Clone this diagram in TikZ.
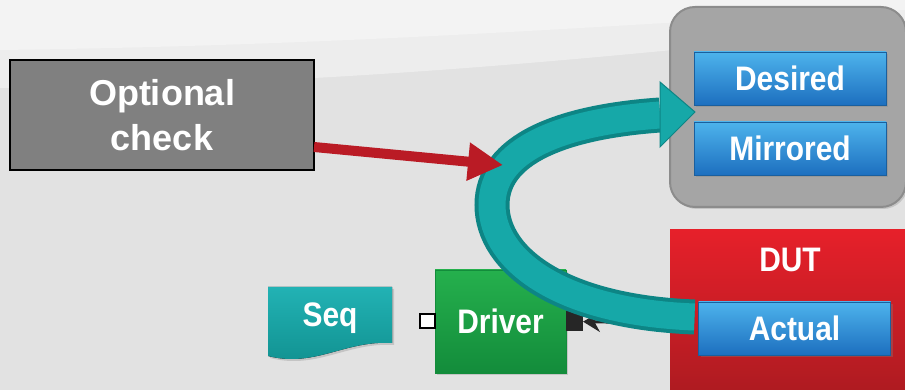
\documentclass[tikz,border=0pt]{standalone}
\usepackage{fontspec}
\setmainfont{Liberation Sans}
\newfontfamily\narrowsans{Liberation Sans}[FakeStretch=0.88]
\usepackage{xcolor}
\usetikzlibrary{arrows.meta, positioning, shadows}

\definecolor{bgGray}{HTML}{E2E2E2}
\definecolor{bgLight}{HTML}{EDEDED}
\definecolor{bgTop}{HTML}{F3F3F3}
\definecolor{optGray}{HTML}{808080}
\definecolor{regGray}{HTML}{A5A5A5}
\definecolor{regEdge}{HTML}{8C8C8C}
\definecolor{blueTop}{HTML}{4DB3EC}
\definecolor{blueMid}{HTML}{2D90DA}
\definecolor{blueBot}{HTML}{1D6FBF}
\definecolor{blueEdge}{HTML}{1A5F9E}
\definecolor{dutTop}{HTML}{E6202A}
\definecolor{dutBot}{HTML}{AE1B21}
\definecolor{greenTop}{HTML}{25B04D}
\definecolor{greenBot}{HTML}{138C3B}
\definecolor{seqTop}{HTML}{22B2B4}
\definecolor{seqBot}{HTML}{10908F}
\definecolor{tealDark}{HTML}{0D8585}
\definecolor{tealMid}{HTML}{16A8A8}
\definecolor{checkRed}{HTML}{BA1B25}

\begin{document}
\begin{tikzpicture}[
    x=1pt, y=1pt,
    box/.style={inner sep=0pt, outer sep=0pt, align=center, text=white, font=\narrowsans\bfseries\fontsize{34}{38}\selectfont},
    optbox/.style={box, minimum width=304pt, minimum height=110pt, fill=optGray, draw=black, line width=1.5pt, font=\rmfamily\bfseries\fontsize{36}{45}\selectfont},
    regbox/.style={box, minimum width=236pt, minimum height=200pt, rounded corners=25pt, fill=regGray, draw=regEdge, line width=2pt, drop shadow={shadow xshift=2pt, shadow yshift=-2pt, opacity=0.3}},
    bluebox/.style={box, minimum width=192pt, minimum height=53pt, top color=blueTop, middle color=blueMid, bottom color=blueBot, draw=blueEdge, line width=0.8pt, drop shadow={shadow xshift=2pt, shadow yshift=-2pt, opacity=0.35}},
    dutbox/.style={box, minimum width=236pt, minimum height=162pt, top color=dutTop, bottom color=dutBot},
    greenbox/.style={box, minimum width=131pt, minimum height=103pt, top color=greenTop, bottom color=greenBot, draw=greenBot, line width=0.8pt, drop shadow={shadow xshift=2pt, shadow yshift=-2pt, opacity=0.3}},
    wport/.style={inner sep=0pt, outer sep=0pt, minimum width=15pt, minimum height=14pt, fill=white, draw=black, line width=2pt},
    bport/.style={inner sep=0pt, outer sep=0pt, minimum width=17pt, minimum height=20pt, fill=black!85},
    mon/.style={-{Stealth[length=17pt,width=20pt]}, line width=3pt, black!85},
    tube/.style={draw=tealDark, line width=35pt, postaction={draw=tealMid, line width=27pt}},
    check/.style={-{Triangle[length=35pt,width=36pt]}, line width=10pt, checkRed}
]
    \useasboundingbox (0,0) rectangle (905,390);

    % Background
    \fill[bgGray] (0,0) rectangle (905,390);
    \fill[bgLight] (0,390) -- (905,390) -- (905,362) .. controls (700,345) and (400,305) .. (0,302) -- cycle;
    \fill[bgTop] (0,390) -- (905,390) -- (905,380) .. controls (700,372) and (400,345) .. (0,340) -- cycle;

    % Main components
    \node[optbox] (opt) at (162,275) {Optional\\check};
    \node[regbox] (reg) at (788,283) {};
    \node[bluebox] (desired) at (790,311.5) {Desired};
    \node[bluebox, below=17pt of desired] (mirrored) {Mirrored};

    \node[dutbox] (dut) at (788,79) {};
    \node[box] (duttitle) at (790,130.5) {DUT};
    \node[bluebox] (actual) at (794.5,61.5) {Actual};

    \fill[top color=seqTop, bottom color=seqBot, drop shadow={shadow xshift=2pt, shadow yshift=-2pt, opacity=0.3}] (268,103) -- (392,103) -- (392,47) .. controls (345,50) and (315,22) .. (268,34) -- cycle;
    \node[box] (seq) at (330,71.5) {Seq};

    \node[greenbox] (driver) at (500.5,68.5) {Driver};
    \node[wport, left=0pt of driver] (dport) {};
    \node[bport, right=0pt of driver] (mport) {};

    % Arrows
    \coordinate (dutport) at (668,67);
    \draw[mon] (dutport) -- (mport);

    \coordinate (bandend) at (660,275);
    \coordinate (gap) at (695,278);
    \draw[tube] ([xshift=-4pt,yshift=11.5pt]actual.west) .. controls (560,78) and (492,130) .. (492,185) .. controls (492,240) and (560,268) .. (bandend);
    \fill[tealMid, draw=tealDark, line width=1pt] (660,308) -- (gap) -- (660,243) -- cycle;

    \coordinate (redtip) at (503,225);
    \draw[check] ([yshift=-32pt]opt.east) -- (redtip);
\end{tikzpicture}
\end{document}
